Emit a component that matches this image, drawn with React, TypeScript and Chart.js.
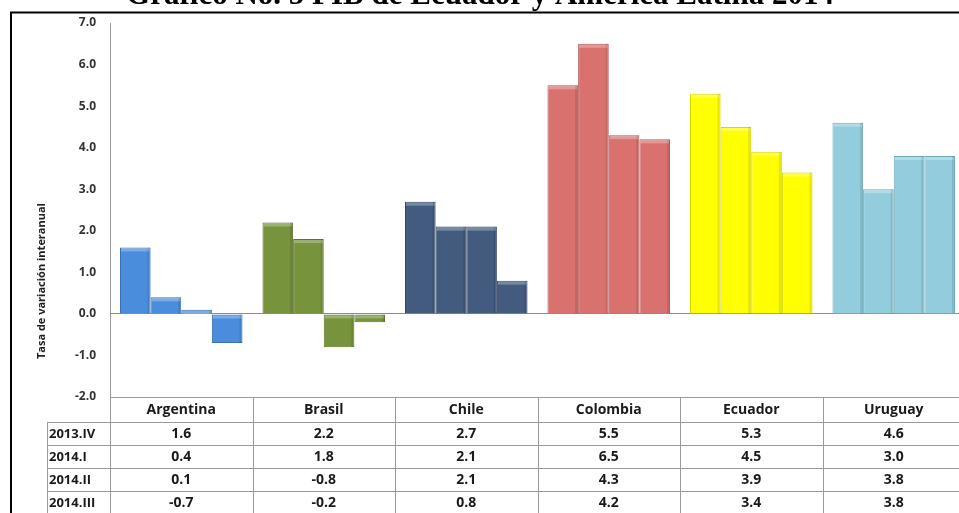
import React, { useEffect, useRef } from "react";
import { Chart, registerables } from "chart.js";

Chart.register(...registerables);

// Quarterly GDP growth (year-on-year %) by country
const countries = ["Argentina", "Brasil", "Chile", "Colombia", "Ecuador", "Uruguay"];
const periods = ["2013.IV", "2014.I", "2014.II", "2014.III"];
const q2013IV = [1.6, 2.2, 2.7, 5.5, 5.3, 4.6];
const q2014I = [0.4, 1.8, 2.1, 6.5, 4.5, 3.0];
const q2014II = [0.1, -0.8, 2.1, 4.3, 3.9, 3.8];
const q2014III = [-0.7, -0.2, 0.8, 4.2, 3.4, 3.8];
const seriesValues = [q2013IV, q2014I, q2014II, q2014III];

const yMin = -2;
const yMax = 7;
const yStep = 1;

const chartTitle = "Gráfico No. 5 PIB de Ecuador y América Latina 2014";
const yAxisTitle = "Tasa de variación interanual";

// One colour per country (all four quarters share it)
const countryFill = ["#4a8ddc", "#77933c", "#435b7e", "#d9716f", "#ffff00", "#93cddd"];
const countryEdge = ["#3a70b0", "#5c7330", "#334663", "#b45a58", "#d6d600", "#6fa9b8"];

const CANVAS_W = 966;
const CANVAS_H = 513;
const FONT = "'Open Sans', Lato, sans-serif";

const decorPlugin = {
  id: "decor",
  afterDatasetsDraw(chart: any) {
    // soft bevel on the top edge of every bar
    const ctx = chart.ctx;
    ctx.save();
    chart.data.datasets.forEach((_: any, di: number) => {
      const meta = chart.getDatasetMeta(di);
      meta.data.forEach((bar: any) => {
        const w = bar.width;
        const top = Math.min(bar.y, bar.base);
        const h = Math.abs(bar.base - bar.y);
        const l = bar.x - w / 2;
        ctx.fillStyle = "rgba(255,255,255,0.28)";
        ctx.fillRect(l + 1, top + 1, w - 2, Math.min(3, h));
        ctx.fillStyle = "rgba(0,0,0,0.10)";
        ctx.fillRect(l + w - 3, top, 2, h);
      });
    });
    ctx.restore();
  },
  afterDraw(chart: any) {
    const ctx = chart.ctx;
    const { left, right, top, bottom } = chart.chartArea;
    const xs = chart.scales.x;
    const half = (xs.getPixelForValue(1) - xs.getPixelForValue(0)) / 2;
    ctx.save();

    // title (partly above the page edge)
    ctx.fillStyle = "#000";
    ctx.font = "bold 31px 'Liberation Serif', 'DejaVu Serif', serif";
    ctx.textAlign = "center";
    ctx.textBaseline = "alphabetic";
    ctx.fillText(chartTitle, 480, 4);

    // outer frame
    ctx.strokeStyle = "#000";
    ctx.lineWidth = 2;
    ctx.strokeRect(11, 12.5, 2000, 2000);

    // rotated y-axis title
    ctx.save();
    ctx.translate(42, top + 0.69 * (bottom - top));
    ctx.rotate(-Math.PI / 2);
    ctx.font = `bold 11px ${FONT}`;
    ctx.fillStyle = "#222";
    ctx.textAlign = "center";
    ctx.textBaseline = "middle";
    ctx.fillText(yAxisTitle, 0, 0);
    ctx.restore();

    // data table under the plot
    const headerH = 25;
    const rowH = 23;
    const labelLeft = 47;
    const tableBottom = CANVAS_H + 2;
    ctx.strokeStyle = "#9a9a9a";
    ctx.lineWidth = 1;
    ctx.beginPath();
    // axis line continues through table
    ctx.moveTo(left + 0.5, top);
    ctx.lineTo(left + 0.5, tableBottom);
    // header top
    ctx.moveTo(left, bottom + 0.5);
    ctx.lineTo(right + 5, bottom + 0.5);
    // row lines
    for (let r = 0; r <= periods.length; r++) {
      const y = Math.round(bottom + headerH + r * rowH) + 0.5;
      ctx.moveTo(labelLeft, y);
      ctx.lineTo(right + 5, y);
    }
    // label column left border
    ctx.moveTo(labelLeft + 0.5, bottom + headerH);
    ctx.lineTo(labelLeft + 0.5, tableBottom);
    // column separators
    countries.forEach((_, i) => {
      const x = Math.round(xs.getPixelForValue(i) + half) + 0.5;
      ctx.moveTo(x, bottom);
      ctx.lineTo(x, tableBottom);
    });
    ctx.stroke();

    ctx.fillStyle = "#1a1a1a";
    ctx.font = `bold 14px ${FONT}`;
    ctx.textBaseline = "middle";
    ctx.textAlign = "center";
    countries.forEach((c, i) => {
      const cx = xs.getPixelForValue(i);
      ctx.fillText(c, cx, bottom + headerH / 2 + 1);
      seriesValues.forEach((vals, r) => {
        ctx.fillText(vals[i].toFixed(1), cx, bottom + headerH + r * rowH + rowH / 2 + 1);
      });
    });
    ctx.textAlign = "left";
    ctx.font = `bold 13px ${FONT}`;
    periods.forEach((p, r) => {
      ctx.fillText(p, labelLeft + 2, bottom + headerH + r * rowH + rowH / 2 + 1);
    });

    ctx.restore();
  },
};

export default function App() {
  const ref = useRef<HTMLCanvasElement | null>(null);

  useEffect(() => {
    if (!ref.current) return;
    const chart = new Chart(ref.current, {
      type: "bar",
      data: {
        labels: countries,
        datasets: seriesValues.map((vals, i) => ({
          label: periods[i],
          data: vals,
          backgroundColor: countryFill,
          borderColor: countryEdge,
          borderWidth: 1,
          barPercentage: 1,
          categoryPercentage: 0.86,
        })),
      },
      options: {
        responsive: false,
        animation: false,
        devicePixelRatio: 1,
        layout: { padding: { left: 0, top: 23, right: 1, bottom: 116 } },
        plugins: {
          legend: { display: false },
          title: { display: false },
          tooltip: { enabled: false },
        },
        scales: {
          x: { display: false },
          y: {
            min: yMin,
            max: yMax,
            afterFit: (scale: any) => {
              scale.width = 110;
            },
            ticks: {
              stepSize: yStep,
              padding: 14,
              color: "#333333",
              font: { family: FONT, weight: "bold", size: 12 },
              callback: (v: any) => Number(v).toFixed(1),
            },
            grid: {
              drawTicks: false,
              color: (c: any) => (c.tick && c.tick.value === 0 ? "#8c8c8c" : "rgba(0,0,0,0)"),
            },
            border: { display: true, color: "#9a9a9a" },
          },
        },
      },
      plugins: [decorPlugin],
    });
    return () => chart.destroy();
  }, []);

  return (
    <div
      style={{
        position: "fixed",
        left: 0,
        top: 0,
        width: 959,
        height: 513,
        overflow: "hidden",
        background: "#fff",
      }}
    >
      <canvas ref={ref} width={CANVAS_W} height={CANVAS_H} style={{ width: CANVAS_W, height: CANVAS_H, display: "block" }} />
    </div>
  );
}
